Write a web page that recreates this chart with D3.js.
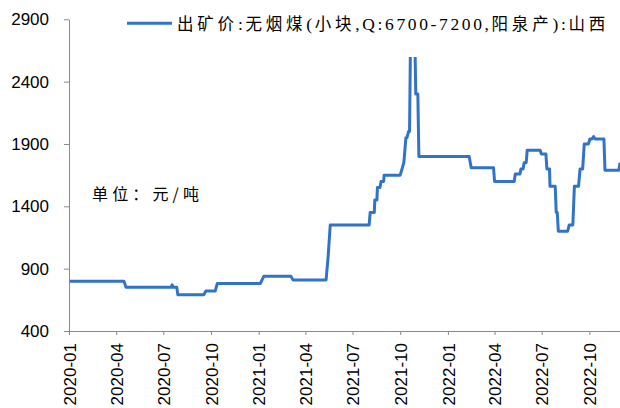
<!DOCTYPE html>
<html>
<head>
<meta charset="utf-8">
<script src="https://cdn.jsdelivr.net/npm/d3@7"></script>
<style>
  html, body { margin: 0; padding: 0; background: #fff; }
  svg { display: block; }
</style>
</head>
<body>
<svg id="chart" width="620" height="408"></svg>
<script>
// ---- data ----
const seriesName = "出矿价:无烟煤(小块,Q:6700-7200,阳泉产):山西";
const unitLabel = "单位：元/吨";
const dates = [
  "2020-01-01","2020-04-16","2020-04-20","2020-07-16","2020-07-18","2020-07-20","2020-07-27","2020-07-29",
  "2020-09-17","2020-09-21","2020-10-09","2020-10-13","2021-01-04","2021-01-11","2021-03-04","2021-03-08",
  "2021-05-11","2021-05-15","2021-05-19","2021-08-02","2021-08-04","2021-08-12","2021-08-13","2021-08-17",
  "2021-08-18","2021-08-23","2021-08-25","2021-08-30","2021-08-31","2021-10-01","2021-10-08","2021-10-12",
  "2021-10-14","2021-10-17","2021-10-19","2021-10-21","2021-10-29","2021-10-31","2021-11-04","2021-11-06",
  "2022-02-11","2022-02-15","2022-03-30","2022-04-01","2022-05-09","2022-05-11","2022-05-20","2022-05-22",
  "2022-05-26","2022-05-28","2022-06-01","2022-06-03","2022-06-28","2022-06-30","2022-07-09","2022-07-11",
  "2022-07-16","2022-07-17","2022-07-27","2022-07-29","2022-07-31","2022-08-02","2022-08-20","2022-08-23",
  "2022-08-30","2022-09-02","2022-09-10","2022-09-13","2022-09-18","2022-09-21","2022-09-29","2022-10-02",
  "2022-10-06","2022-10-09","2022-10-12","2022-10-29","2022-10-31","2022-11-27","2022-11-29"
];
const values = [
  800,800,750,750,770,750,750,690,
  690,720,720,780,780,840,840,810,
  810,1000,1250,1250,1350,1350,1450,1450,
  1550,1550,1600,1600,1650,1650,1750,1950,
  1950,2000,2000,2800,2800,2300,2300,1800,
  1800,1710,1710,1600,1600,1660,1660,1700,
  1700,1750,1750,1850,1850,1820,1820,1700,
  1700,1560,1560,1350,1350,1200,1200,1250,
  1250,1560,1560,1700,1700,1900,1900,1940,
  1940,1960,1940,1940,1690,1690,1750
];
const yTicks = [400, 900, 1400, 1900, 2400, 2900];
const xDomain = ["2020-01-01", "2022-11-29"];
const xTickStart = "2020-01-01", xTickEnd = "2022-10-01";

// ---- drawing ----
const parse = d3.utcParse("%Y-%m-%d");
const data = dates.map((d, i) => ({ date: parse(d), value: values[i] }));
const svg = d3.select("#chart");

const x = d3.scaleUtc().domain(xDomain.map(parse)).range([69, 620]);
const y = d3.scaleLinear().domain([400, 2900]).range([331, 19.3]);

const axisColor = "#898989";
const fontAxis = "'Liberation Sans', Arial, sans-serif";
const lineColor = "#3173c6";

// line
const line = d3.line().x(d => x(d.date)).y(d => y(d.value));
svg.append("path")
  .datum(data)
  .attr("fill", "none")
  .attr("stroke", lineColor)
  .attr("stroke-width", 3)
  .attr("stroke-linejoin", "round")
  .attr("d", line);

// legend background (covers the top of the spike like the reference)
svg.append("rect").attr("x", 110).attr("y", 0).attr("width", 510).attr("height", 57).attr("fill", "#fff");

// y axis
const yAxis = svg.append("g").attr("transform", "translate(69,0)")
  .call(d3.axisLeft(y).tickValues(yTicks).tickSize(5).tickSizeOuter(0).tickPadding(15).tickFormat(d3.format("d")));
yAxis.select(".domain").attr("stroke", axisColor);
yAxis.selectAll(".tick line").attr("stroke", axisColor);
yAxis.selectAll("text").attr("font-family", fontAxis).attr("font-size", 17).attr("fill", "#000");

// x axis
const xTicks = d3.utcMonth.every(3).range(parse(xTickStart), d3.utcDay.offset(parse(xTickEnd), 1));
const xAxis = svg.append("g").attr("transform", "translate(0,331)")
  .call(d3.axisBottom(x).tickValues(xTicks).tickSize(4).tickSizeOuter(0).tickFormat(d3.utcFormat("%Y-%m")));
xAxis.select(".domain").attr("stroke", axisColor);
xAxis.selectAll(".tick line").attr("stroke", axisColor);
xAxis.selectAll("text")
  .attr("font-family", fontAxis).attr("font-size", 17).attr("fill", "#000")
  .attr("transform", "rotate(-90)")
  .attr("text-anchor", "end")
  .attr("x", -12).attr("y", 0).attr("dy", "0.36em");

// legend
svg.append("line").attr("x1", 127).attr("x2", 172).attr("y1", 23.3).attr("y2", 23.3)
  .attr("stroke", lineColor).attr("stroke-width", 3);
const leg = svg.append("text").attr("x", 177).attr("y", 29.5)
  .attr("font-family", "'Liberation Serif', 'Noto Sans CJK SC', serif")
  .attr("fill", "#000");
// split the name into CJK / Latin runs
const runs = seriesName.match(/[\u3000-\u9fff\uff00-\uffef]+|[^\u3000-\u9fff\uff00-\uffef]+/g);
const isCJK = s => /[\u3000-\u9fff\uff00-\uffef]/.test(s);
runs.forEach(r => {
  leg.append("tspan").attr("class", isCJK(r) ? "cjk" : "lat").text(r);
});
leg.selectAll("tspan.cjk").attr("font-size", 16.5).attr("letter-spacing", "3.8px");
leg.selectAll("tspan.lat").attr("font-size", 17.5);
{
  const target = 432;
  const w = leg.node().getComputedTextLength();
  const nLat = runs.filter(r => !isCJK(r)).join("").length;
  const s = (target - w) / nLat;
  leg.selectAll("tspan.lat").attr("letter-spacing", s.toFixed(3) + "px");
}

// unit label
const unit = svg.append("text").attr("x", 92).attr("y", 200)
  .attr("font-family", "'Noto Sans CJK SC', sans-serif")
  .attr("font-size", 16).attr("fill", "#000")
  .text(unitLabel);
{
  const target = 107, n = unitLabel.length;
  const w = unit.node().getComputedTextLength();
  unit.attr("letter-spacing", ((target - w) / (n - 1)).toFixed(3) + "px");
}
</script>
</body>
</html>
